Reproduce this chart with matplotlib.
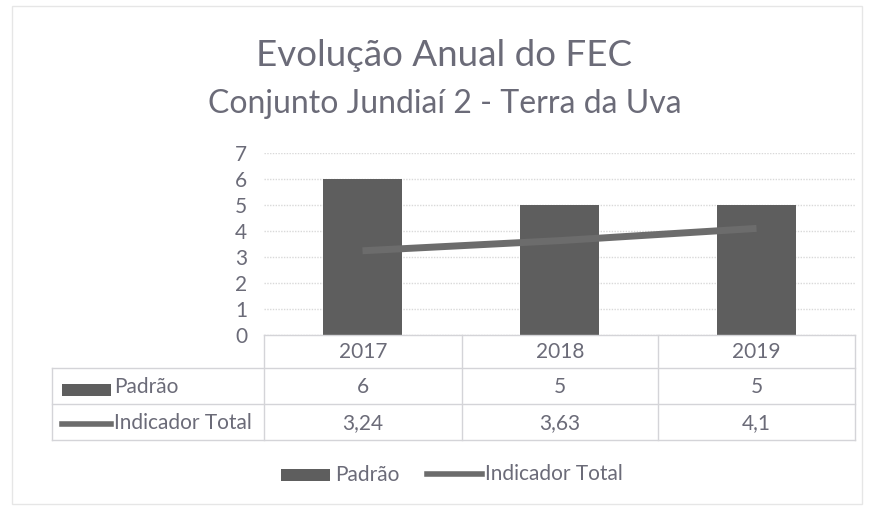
import matplotlib.pyplot as plt
from matplotlib.patches import Rectangle
from matplotlib.lines import Line2D

anos = ['2017', '2018', '2019']
padrao = [6, 5, 5]
indicador = [3.24, 3.63, 4.1]
padrao_txt = ['6', '5', '5']
indicador_txt = ['3,24', '3,63', '4,1']

plt.rcParams['font.family'] = ['Lato', 'DejaVu Sans']
txt = '#6b6b78'
bar_c = '#5e5e5e'
line_c = '#6c6c6c'
grid_c = '#d9d9d9'

W, H = 872, 512
fig = plt.figure(figsize=(8.72, 5.12), dpi=100)
fig.patch.set_facecolor('white')
fig.add_artist(Rectangle((12 / W, 8 / H), 850 / W, 498 / H, transform=fig.transFigure,
                         fill=False, edgecolor='#e6e6e6', lw=1))

x0, x1 = 264, 855
y_top, y_bot = 153, 335
ax = fig.add_axes([x0 / W, 1 - y_bot / H, (x1 - x0) / W, (y_bot - y_top) / H])

xs = range(len(anos))
ax.bar(xs, padrao, width=0.40, color=bar_c, zorder=2)
ax.plot(xs, indicador, color=line_c, lw=5, solid_capstyle='butt', zorder=3)
ax.set_xlim(-0.5, 2.5)
ax.set_ylim(0, 7)
ax.set_yticks(range(8))
ax.yaxis.grid(True, color=grid_c, lw=1, ls=(0, (1, 1)))
ax.set_axisbelow(True)
for s in ax.spines.values():
    s.set_visible(False)
ax.tick_params(axis='y', length=0, labelsize=15, labelcolor=txt, pad=12)
ax.tick_params(axis='x', length=0, labelbottom=False)

# tabela de dados
def ax_y(py):
    return (y_bot - py) / (y_bot - y_top)

def ax_x(px):
    return (px - x0) / (x1 - x0)

rows = [335, 368, 404, 440]
cols = [264, 462, 658, 855]
lk = dict(transform=ax.transAxes, clip_on=False, color='#d4d4d8', lw=1)
ax.add_line(Line2D([0, 1], [ax_y(rows[0])] * 2, **lk))
for r in rows[1:]:
    ax.add_line(Line2D([ax_x(52), 1], [ax_y(r)] * 2, **lk))
for c in cols:
    ax.add_line(Line2D([ax_x(c)] * 2, [ax_y(rows[0]), ax_y(rows[3])], **lk))
ax.add_line(Line2D([ax_x(52)] * 2, [ax_y(rows[1]), ax_y(rows[3])], **lk))

tk = dict(transform=ax.transAxes, ha='center', va='center', color=txt, fontsize=15, clip_on=False)
for i, ano in enumerate(anos):
    cx = ax_x((cols[i] + cols[i + 1]) / 2)
    ax.text(cx, ax_y(352), ano, **tk)
    ax.text(cx, ax_y(387), padrao_txt[i], **tk)
    ax.text(cx, ax_y(423), indicador_txt[i], **tk)

ax.add_patch(Rectangle((ax_x(62), ax_y(396)), ax_x(111) - ax_x(62), ax_y(384) - ax_y(396),
                       transform=ax.transAxes, clip_on=False, color=bar_c, lw=0))
ax.add_line(Line2D([ax_x(62), ax_x(111)], [ax_y(424)] * 2, transform=ax.transAxes,
                   clip_on=False, color=line_c, lw=4))
ax.text(ax_x(114), ax_y(387), 'Padrão', transform=ax.transAxes, ha='left', va='center',
        color=txt, fontsize=15, clip_on=False)
ax.text(ax_x(114), ax_y(423), 'Indicador Total', transform=ax.transAxes, ha='left', va='center',
        color=txt, fontsize=15, clip_on=False)

# legenda
fig.add_artist(Rectangle((281 / W, 1 - 481 / H), 49 / W, 12 / H, transform=fig.transFigure,
                         color=bar_c, lw=0))
fig.text(335 / W, 1 - 475 / H, 'Padrão', ha='left', va='center', color=txt, fontsize=15)
fig.add_artist(Line2D([427 / W, 482 / W], [1 - 474 / H] * 2, transform=fig.transFigure,
                      color=line_c, lw=4))
fig.text(485 / W, 1 - 474 / H, 'Indicador Total', ha='left', va='center', color=txt, fontsize=15)

fig.text(444 / W, 1 - 56 / H, 'Evolução Anual do FEC', ha='center', va='center',
         color=txt, fontsize=26.5)
fig.text(445 / W, 1 - 104 / H, 'Conjunto Jundiaí 2 - Terra da Uva', ha='center', va='center',
         color=txt, fontsize=23)

fig.savefig('out.png', dpi=100, facecolor='white')
